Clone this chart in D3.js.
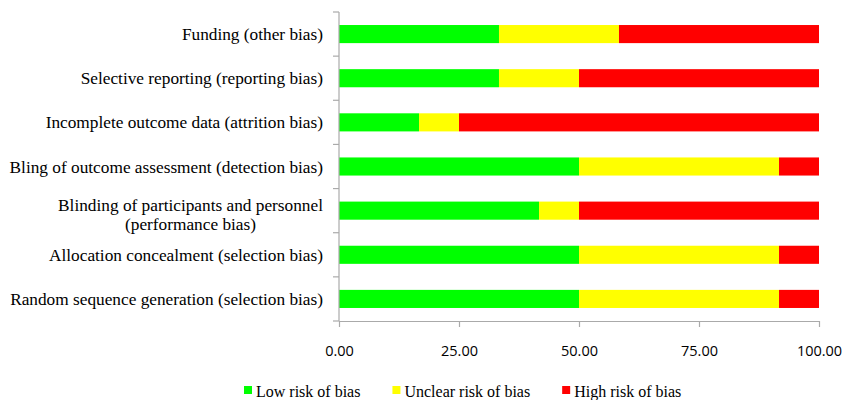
<!DOCTYPE html>
<html>
<head>
<meta charset="utf-8">
<script src="https://cdn.jsdelivr.net/npm/d3@7"></script>
<style>
  html, body { margin: 0; padding: 0; background: #fff; }
  svg { display: block; }
</style>
</head>
<body>
<svg id="chart" width="845" height="400"></svg>
<script>
// Risk-of-bias domains, listed top to bottom
const categories = [
  ["Funding (other bias)"],
  ["Selective reporting (reporting bias)"],
  ["Incomplete outcome data (attrition bias)"],
  ["Bling of outcome assessment (detection bias)"],
  ["Blinding of participants and personnel", "(performance bias)"],
  ["Allocation concealment (selection bias)"],
  ["Random sequence generation (selection bias)"]
];
// Percentage of studies per judgement
const lowRisk     = [33.33, 33.33, 16.67, 50.00, 41.67, 50.00, 50.00];
const unclearRisk = [25.00, 16.67,  8.33, 41.67,  8.33, 41.67, 41.67];
const highRisk    = [41.67, 50.00, 75.00,  8.33, 50.00,  8.33,  8.33];
const seriesNames = ["Low risk of bias", "Unclear risk of bias", "High risk of bias"];
const seriesColors = ["#00ff00", "#ffff00", "#ff0000"];
const xTicks = [0, 25, 50, 75, 100];

const svg = d3.select("#chart");
const plotLeft = 339, plotRight = 819, plotTop = 12, plotBottom = 321;
const axisColor = "#aaaaaa";

const keys = ["low", "unclear", "high"];
const rows = categories.map((c, i) => ({
  id: i, label: c, low: lowRisk[i], unclear: unclearRisk[i], high: highRisk[i]
}));
const stacked = d3.stack().keys(keys)(rows);

const x = d3.scaleLinear().domain([0, 100]).range([plotLeft, plotRight]);
const y = d3.scaleBand().domain(rows.map(d => d.id)).range([plotTop, plotBottom])
  .paddingInner(0.59).paddingOuter(0.295);
const color = d3.scaleOrdinal().domain(keys).range(seriesColors);

// Stacked bars
svg.append("g").selectAll("g").data(stacked).join("g")
  .attr("fill", s => color(s.key))
  .selectAll("rect").data(s => s).join("rect")
  .attr("x", d => x(d[0]))
  .attr("y", d => y(d.data.id))
  .attr("width", d => x(d[1]) - x(d[0]))
  .attr("height", y.bandwidth());

// Vertical axis with ticks between categories
const step = y.step();
const yAxis = svg.append("g").attr("stroke", axisColor).attr("stroke-width", 1.2);
yAxis.append("line").attr("x1", plotLeft).attr("x2", plotLeft).attr("y1", plotTop).attr("y2", plotBottom);
d3.range(categories.length + 1).forEach(i => {
  const yy = plotTop + i * step;
  yAxis.append("line").attr("x1", plotLeft - 6).attr("x2", plotLeft).attr("y1", yy).attr("y2", yy);
});

// Horizontal axis
const xAxis = svg.append("g").attr("transform", `translate(0,${plotBottom})`)
  .call(d3.axisBottom(x).tickValues(xTicks).tickFormat(d3.format(".2f"))
    .tickSizeInner(6).tickSizeOuter(0).tickPadding(19));
xAxis.select(".domain").attr("stroke", axisColor).attr("stroke-width", 1.2);
xAxis.selectAll(".tick line").attr("stroke", axisColor).attr("stroke-width", 1.2);
xAxis.selectAll(".tick text")
  .attr("fill", "#000")
  .style("font-family", "'Open Sans', 'Liberation Sans', sans-serif")
  .style("font-size", "14.5px");

// Category labels
const labelFont = "'Liberation Serif', 'Times New Roman', serif";
const labelSize = "17.3px";
const labelRight = 323;
rows.forEach(d => {
  const cy = y(d.id) + y.bandwidth() / 2;
  if (d.label.length === 1) {
    svg.append("text")
      .attr("x", labelRight).attr("y", cy).attr("dy", "0.35em")
      .attr("text-anchor", "end")
      .style("font-family", labelFont).style("font-size", labelSize)
      .text(d.label[0]);
  } else {
    const first = svg.append("text")
      .attr("x", labelRight).attr("y", cy - 6).attr("dy", "0.35em")
      .attr("text-anchor", "end")
      .style("font-family", labelFont).style("font-size", labelSize)
      .text(d.label[0]);
    const w = first.node().getComputedTextLength();
    svg.append("text")
      .attr("x", labelRight - w / 2).attr("y", cy + 13.5).attr("dy", "0.35em")
      .attr("text-anchor", "middle")
      .style("font-family", labelFont).style("font-size", labelSize)
      .text(d.label[1]);
  }
});

// Legend
let lx = 244;
seriesNames.forEach((name, i) => {
  svg.append("rect").attr("x", lx).attr("y", 386).attr("width", 8).attr("height", 8)
    .attr("fill", seriesColors[i]);
  const t = svg.append("text").attr("x", lx + 12).attr("y", 397)
    .style("font-family", labelFont).style("font-size", "16px")
    .text(name);
  lx += 12 + t.node().getComputedTextLength() + 32;
});
</script>
</body>
</html>
